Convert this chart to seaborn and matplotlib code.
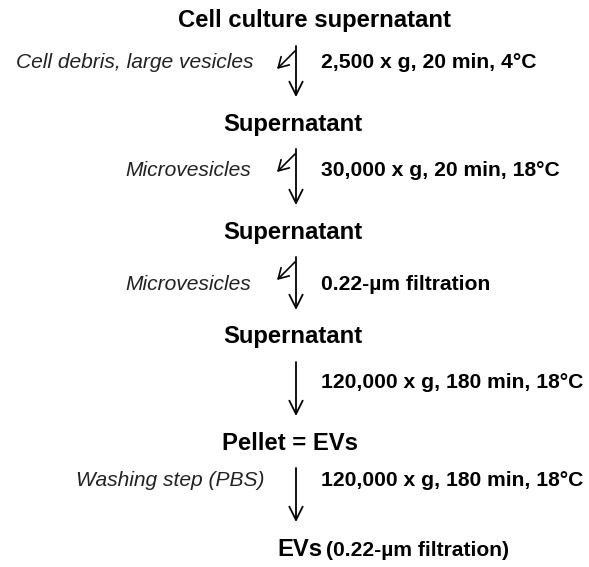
import numpy as np
import matplotlib
matplotlib.use("Agg")
import matplotlib.pyplot as plt
import seaborn as sns

# Steps of the EV isolation protocol
nodes = ["Cell culture supernatant", "Supernatant", "Supernatant", "Supernatant", "Pellet = EVs", "EVs"]
final_note = "(0.22-µm filtration)"
removed = ["Cell debris, large vesicles", "Microvesicles", "Microvesicles", "", "Washing step (PBS)"]
conditions = ["2,500 x g, 20 min, 4°C", "30,000 x g, 20 min, 18°C", "0.22-µm filtration",
              "120,000 x g, 180 min, 18°C", "120,000 x g, 180 min, 18°C"]
discard = [True, True, True, False, False]

sns.set_theme(style="white")
plt.rcParams['font.family'] = ['Liberation Sans', 'DejaVu Sans']

fig = plt.figure(figsize=(5.89, 5.67), dpi=100)
ax = fig.add_axes([0, 0, 1, 1])
ax.set_xlim(0, 589)
ax.set_ylim(567, 0)
ax.axis('off')

# layout (pixels)
x_arrow = 296
node_y = [21, 124, 232, 337, 443, 549]
node_x = [314, 293, 293, 293, 290]
label_dy = [16, 21, 27, 20, 13]
left_edge = [253, 251, 251, 251, 265]

# node labels
for i, name in enumerate(nodes[:-1]):
    ax.text(node_x[i], node_y[i], name, ha='center', va='center',
            fontsize=17.2, fontweight='bold', color='black')
ax.text(277, node_y[-1], nodes[-1], ha='left', va='center',
        fontsize=17.2, fontweight='bold', color='black')
ax.text(326, node_y[-1] + 1, final_note, ha='left', va='center',
        fontsize=15.1, fontweight='bold', color='black')

# arrows and side labels
for i in range(len(conditions)):
    y0 = node_y[i] + 25
    y1 = node_y[i + 1] - 27
    ax.annotate('', xy=(x_arrow, y1), xytext=(x_arrow, y0),
                arrowprops=dict(arrowstyle='->,head_length=0.8,head_width=0.4',
                                lw=1.3, color='black', shrinkA=0, shrinkB=0))
    ly = y0 + label_dy[i]
    ax.text(321, ly, conditions[i], ha='left', va='center',
            fontsize=15.2, fontweight='bold', color='black')
    if removed[i]:
        ax.text(left_edge[i], ly, removed[i], ha='right', va='center',
                fontsize=15.1, fontstyle='italic', color='#222222')
    if discard[i]:
        ax.annotate('', xy=(277, y0 + 23), xytext=(295, y0 + 5),
                    arrowprops=dict(arrowstyle='->,head_length=0.6,head_width=0.35',
                                    lw=1.2, color='black', shrinkA=0, shrinkB=0))

plt.savefig('out.png', dpi=100)
